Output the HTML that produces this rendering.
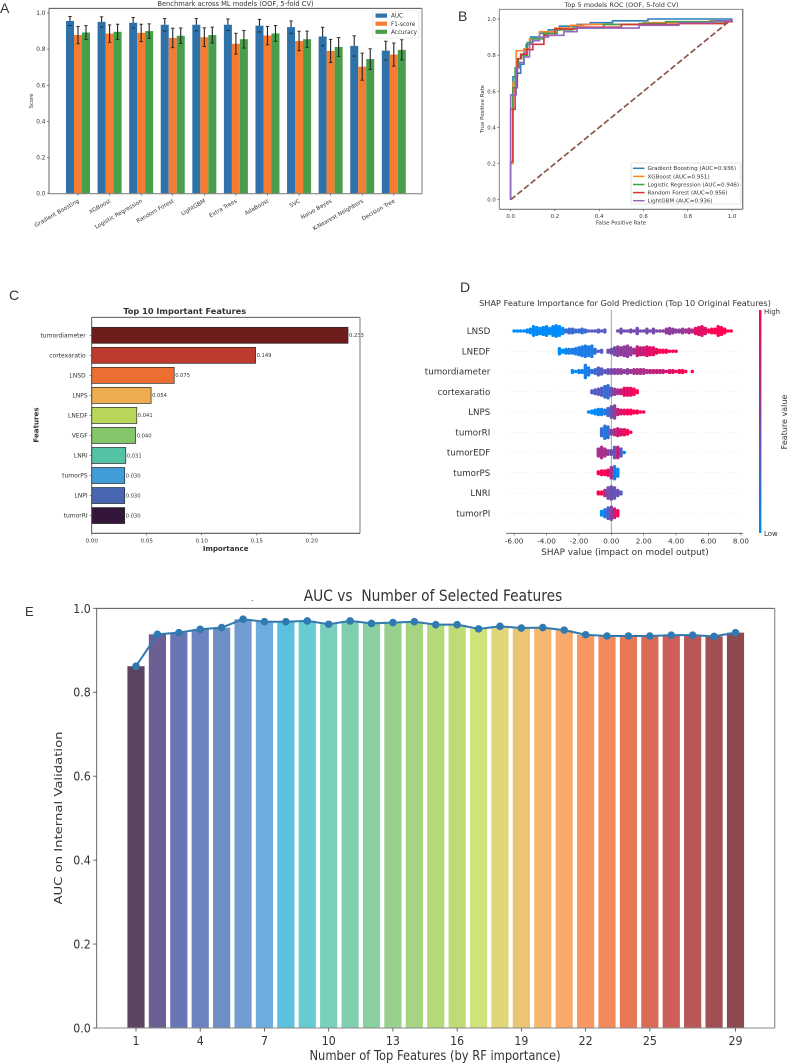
<!DOCTYPE html>
<html lang="en">
<head>
<meta charset="utf-8">
<title>ML model benchmark figure</title>
<style>
html,body{margin:0;padding:0;background:#fff;}
svg{display:block;}
text{font-family:"DejaVu Sans","Liberation Sans",sans-serif;fill:#333;}
.panel{font-family:"Liberation Sans",sans-serif;font-size:14px;fill:#333;}
</style>
</head>
<body>
<svg id="fig" xmlns="http://www.w3.org/2000/svg" width="794" height="1063" viewBox="0 0 794 1063">
  <defs>
    <filter id="soft" x="-5%" y="-5%" width="110%" height="110%"><feGaussianBlur stdDeviation="0.35"/></filter>
  </defs>
  <rect x="0" y="0" width="794" height="1063" fill="#fff"/>
  <text class="panel" x="0" y="13">A</text>
  <text class="panel" x="458" y="21">B</text>
  <text class="panel" x="9" y="300">C</text>
  <text class="panel" x="460" y="292">D</text>
  <text class="panel" x="25" y="616" style="font-size:13px">E</text>

  <g id="a" filter="url(#soft)">
    <text x="235.5" y="6" text-anchor="middle" font-size="6.7">Benchmark across ML models (OOF, 5-fold CV)</text>
    <text transform="translate(33,101) rotate(-90)" text-anchor="middle" font-size="5.4">Score</text>
  </g>
  <g id="b" filter="url(#soft)">
    <text x="621.5" y="7" text-anchor="middle" font-size="6.5">Top 5 models ROC (OOF, 5-fold CV)</text>
    <text x="621" y="224.5" text-anchor="middle" font-size="5.4">False Positive Rate</text>
    <text transform="translate(484,109) rotate(-90)" text-anchor="middle" font-size="5.4">True Positive Rate</text>
  </g>
  <g id="c" filter="url(#soft)">
    <text x="184.7" y="314" text-anchor="middle" font-size="8.2" font-weight="bold">Top 10 Important Features</text>
    <text x="225.7" y="551" text-anchor="middle" font-size="7.1" font-weight="bold">Importance</text>
    <text transform="translate(38.5,425) rotate(-90)" text-anchor="middle" font-size="7.1" font-weight="bold">Features</text>
  </g>
  <g id="d" filter="url(#soft)">
    <text x="625" y="306" text-anchor="middle" font-size="8.2">SHAP Feature Importance for Gold Prediction (Top 10 Original Features)</text>
    <text x="625" y="555" text-anchor="middle" font-size="8.9">SHAP value (impact on model output)</text>
    <text x="764" y="314" font-size="7">High</text>
    <text x="764" y="536" font-size="7">Low</text>
    <text transform="translate(787,422) rotate(-90)" text-anchor="middle" font-size="8">Feature value</text>
  </g>
  <g id="e">
    <text transform="translate(433,601) scale(1,1.15)" text-anchor="middle" font-size="13.8" xml:space="preserve">AUC vs  Number of Selected Features</text>
    <text x="251" y="601" font-size="8">.</text>
    <text transform="translate(435,1060) scale(1,1.15)" text-anchor="middle" font-size="11.5">Number of Top Features (by RF importance)</text>
    <text transform="translate(62,818) rotate(-90) scale(1.15,0.95)" text-anchor="middle" font-size="11.5">AUC on Internal Validation</text>
  </g>
</svg>

<script>
/* ---------- Panel A data ---------- */
const modelNames = ["Gradient Boosting","XGBoost","Logistic Regression","Random Forest","LightGBM","Extra Trees","AdaBoost","SVC","Naive Bayes","K-Nearest Neighbors","Decision Tree"];
const aucValues = [0.956,0.951,0.946,0.935,0.935,0.935,0.930,0.922,0.870,0.818,0.792];
const aucErrors = [0.025,0.028,0.029,0.034,0.034,0.032,0.035,0.034,0.051,0.056,0.052];
const f1Values = [0.878,0.886,0.890,0.862,0.866,0.830,0.875,0.845,0.790,0.703,0.770];
const f1Errors = [0.048,0.048,0.048,0.054,0.052,0.058,0.051,0.054,0.064,0.075,0.064];
const accValues = [0.892,0.896,0.900,0.874,0.878,0.855,0.887,0.855,0.812,0.745,0.796];
const accErrors = [0.038,0.042,0.040,0.043,0.044,0.049,0.044,0.045,0.052,0.057,0.056];
const scoreTicks = [0,0.2,0.4,0.6,0.8,1.0];

/* ---------- Panel B data ---------- */
const gbFpr = [0,0.01,0.03,0.045,0.06,0.07,0.09,0.13,0.17,0.22,0.30,0.36,0.46,0.62,1];
const gbTpr = [0.50,0.68,0.70,0.75,0.83,0.86,0.90,0.92,0.94,0.96,0.97,0.98,0.99,1,1];
const xgbFpr = [0,0.01,0.025,0.06,0.085,0.13,0.20,0.27,0.33,0.60,0.90,1];
const xgbTpr = [0.20,0.65,0.825,0.835,0.89,0.93,0.95,0.965,0.97,0.98,0.99,1];
const lrFpr = [0,0.01,0.02,0.035,0.05,0.075,0.10,0.15,0.21,0.28,0.42,0.58,0.70,1];
const lrTpr = [0.50,0.62,0.73,0.78,0.80,0.87,0.89,0.92,0.94,0.95,0.97,0.975,0.985,0.99];
const rfFpr = [0,0.01,0.02,0.03,0.045,0.07,0.10,0.15,0.20,0.30,0.50,0.76,0.97,1];
const rfTpr = [0.21,0.50,0.62,0.78,0.805,0.83,0.86,0.91,0.945,0.955,0.97,0.975,0.985,0.99];
const lgbFpr = [0,0.025,0.04,0.06,0.085,0.10,0.13,0.17,0.24,0.30,0.58,0.76,0.92,1];
const lgbTpr = [0.58,0.73,0.76,0.79,0.86,0.88,0.90,0.91,0.93,0.95,0.965,0.98,0.99,1];
const rocNames = ["Gradient Boosting (AUC=0.936)","XGBoost (AUC=0.951)","Logistic Regression (AUC=0.946)","Random Forest (AUC=0.956)","LightGBM (AUC=0.936)"];
const rocTicks = [0,0.2,0.4,0.6,0.8,1.0];

/* ---------- Panel C data ---------- */
const importanceFeatures = ["tumordiameter","cortexaratio","LNSD","LNPS","LNEDF","VEGF","LNRI","tumorPS","LNPI","tumorRI"];
const importanceValues = [0.233,0.149,0.075,0.054,0.041,0.040,0.031,0.030,0.030,0.030];
const importanceTicks = [0,0.05,0.10,0.15,0.20];

/* ---------- Panel D data: beeswarm columns (0.2-wide bins) ---------- */
const shapFeatures = ["LNSD","LNEDF","tumordiameter","cortexaratio","LNPS","tumorRI","tumorEDF","tumorPS","LNRI","tumorPI"];
const shapStarts = [-6.0,-3.2,-2.4,-1.2,-1.4,-0.6,-0.8,-0.8,-0.8,-0.6];
const shapCounts = [
 [1,1,1,1,2,3,6,5,4,5,6,4,6,7,6,4,2,3,3,2,2,3,2,1,1,1,2,1,2,0,0,0,1,3,1,1,2,1,4,1,1,3,1,3,1,1,1,3,4,3,2,2,3,2,3,2,4,5,6,4,2,3,3,6,5,3,1,1,0],
 [4,2,3,3,3,4,5,6,7,6,7,3,1,2,0,2,3,5,6,5,6,7,5,3,6,5,5,6,5,5,3,2,2,2,1,1,1],
 [2,1,2,2,8,5,2,3,5,4,2,3,3,3,3,3,2,3,2,3,3,3,3,2,2,2,2,2,2,1,2,2,1,2,2,1,0,1],
 [2,3,4,5,7,8,5,4,3,3,5,5,5,4,2],
 [1,2,3,4,4,3,5,7,8,4,3,3,3,3,2,2,1,1],
 [5,8,7,3,4,5,4,4,3,1],
 [5,7,5,3,3,7,7,5,1],
 [2,3,3,4,7,8,5],
 [2,2,4,7,8,7,4,2],
 [3,5,7,8,6,4]
];
const shapFeatureLevels = [
 [0,0,0,0,0,0,0,0,0,0,0,0,0,0,0,0,2,2,2,2,2,2,2,3,3,3,3,3,3,3,3,3,4,4,4,4,4,4,4,4,4,4,4,4,4,5,5,5,5,5,5,5,5,6,6,6,8,8,8,8,9,9,9,9,9,9,9,9,9],
 [0,0,0,1,1,1,1,1,1,1,1,2,3,3,3,4,4,4,5,5,5,5,5,6,7,7,7,8,8,8,8,9,9,9,9,9,9],
 [0,0,0,1,1,1,2,2,3,3,3,4,4,5,5,5,5,5,5,6,6,6,6,6,7,7,7,7,7,8,8,8,8,9,9,9,9,9],
 [3,3,3,3,2,2,4,5,6,7,8,8,8,9,9],
 [0,0,0,0,1,1,2,4,5,7,8,8,9,9,9,9,9,9],
 [2,1,2,5,6,7,8,8,9,9],
 [6,6,6,5,4,3,7,3,0],
 [9,9,9,8,6,1,0],
 [9,9,6,4,4,3,4,3],
 [0,1,3,5,7,9]
];
const shapTicks = [-6,-4,-2,0,2,4,6,8];

/* ---------- Panel E data ---------- */
const featureCounts = [1,2,3,4,5,6,7,8,9,10,11,12,13,14,15,16,17,18,19,20,21,22,23,24,25,26,27,28,29];
const aucByCount = [0.862,0.938,0.942,0.950,0.954,0.974,0.968,0.968,0.970,0.962,0.970,0.964,0.966,0.968,0.961,0.961,0.951,0.957,0.953,0.954,0.948,0.937,0.934,0.934,0.934,0.936,0.936,0.933,0.942];
const featureTickLabels = [1,4,7,10,13,16,19,22,25,29];
const aucTicks = [0,0.2,0.4,0.6,0.8,1.0];

/* ---------- Colours ---------- */
const modelBarColors = ["#2f72a9","#f57d31","#4a9e4b"];
const rocColors = ["#2f7fb8","#f7872a","#3f9f45","#d9333a","#9467bd"];
const importanceColors = ["#6e1c1f","#bd3b2e","#ee6e33","#eeac50","#b8d659","#84c76b","#53c2a5","#419dd8","#4a66b0","#34183a"];
const aucColors = ["#5c4562","#6b5f94","#6a75b4","#6d82c0","#6f8fc4","#729bcf","#6cacdf","#5bc1e1","#65cdd1","#78cfbb","#7fcfae","#8ad0a0","#97d18d","#a6d480","#b5d878","#bfdb76","#d0e27a","#e0d679","#ebc672","#f4b86e","#f9a96a","#f89860","#f08a5c","#e87855","#da6a56","#cd5e58","#b85658","#a35055","#8c4a4e"];

/* ---------- Helpers ---------- */
const NS = "http://www.w3.org/2000/svg";
function el(parent, tag, attrs) {
  const n = document.createElementNS(NS, tag);
  for (const k in attrs) n.setAttribute(k, attrs[k]);
  parent.appendChild(n);
  return n;
}
function label(parent, str, x, y, size, anchor, name) {
  const t = el(parent, "text", {x: x, y: y, "font-size": size, "text-anchor": anchor});
  t.textContent = str;
  
  
  return t;
}
function tallLabel(parent, str, x, y, size, anchor, name) {
  const t = label(parent, str, 0, 0, size, anchor, name);
  t.setAttribute("transform", "translate(" + x + "," + y + ") scale(1,1.15)");
  return t;
}
function seg(parent, x1, y1, x2, y2, color, width, name) {
  const l = el(parent, "line", {x1: x1, y1: y1, x2: x2, y2: y2, stroke: color, "stroke-width": width});
  
  
  return l;
}
function frame(parent, l, t, r, b, prefix, colors) {
  seg(parent, l, t, r, t, colors[0], 0.9, prefix + "-top-spine");
  seg(parent, l, t, l, b, colors[1], 0.9, prefix + "-left-spine");
  seg(parent, r, t, r, b, colors[2], 1.3, prefix + "-right-spine");
  seg(parent, l, b, r, b, colors[3], 1.1, prefix + "-bottom-spine");
}

/* ---------- Panel A ---------- */
(function () {
  const g = document.getElementById("a");
  const L = 49, R = 422, T = 8.3, B = 193.7;
  const y = v => B - 180.7 * v;
  const groupX = i => 78 + 31.58 * i;
  const series = [[aucValues, aucErrors], [f1Values, f1Errors], [accValues, accErrors]];
  const seriesNames = ["auc", "f1", "accuracy"];
  const bw = 8;
  series.forEach((s, si) => {
    s[0].forEach((v, i) => {
      const x = groupX(i) + (si - 1.5) * bw;
      const r = el(g, "rect", {x: x, y: y(v), width: bw, height: B - y(v), fill: modelBarColors[si]});
      
      
    });
  });
  series.forEach((s, si) => {
    s[0].forEach((v, i) => {
      const cx = groupX(i) + (si - 1) * bw;
      const top = y(v + s[1][i]), bot = y(v - s[1][i]);
      const lower = si === 0 ? y(v) : bot;
      seg(g, cx, top, cx, lower, "#222", 1.1, "error-bar");
      seg(g, cx - 1.7, top, cx + 1.7, top, "#222", 0.9, "error-cap-top");
      seg(g, cx - 1.7, bot, cx + 1.7, bot, "#222", 0.9, "error-cap-bottom");
    });
  });
  frame(g, L, T, R, B, "benchmark", ["#3a3a3a", "#555", "#999", "#888"]);
  scoreTicks.forEach(v => {
    seg(g, L - 2, y(v), L, y(v), "#444", 0.6, "y-tick");
    label(g, v.toFixed(1), L - 3.5, y(v) + 2, 5.8, "end", "y-tick-label");
  });
  modelNames.forEach((n, i) => {
    const x = groupX(i);
    seg(g, x, B, x, B + 2, "#444", 0.6, "x-tick");
    const t = label(g, n, 0, 0, 5.6, "end", "model-label");
    t.setAttribute("transform", "translate(" + (x + 1.5) + ",202) rotate(-30)");
  });
  const box = el(g, "rect", {x: 373, y: 11, width: 46, height: 27, fill: "#fff", "fill-opacity": 0.85, stroke: "#ddd", "stroke-width": 0.6, rx: 1});
  
  
  ["AUC", "F1-score", "Accuracy"].forEach((n, i) => {
    const yy = 13.5 + i * 8.1;
    const sw = el(g, "rect", {x: 375.5, y: yy, width: 11.5, height: 4.2, fill: modelBarColors[i]});
    
    
    label(g, n, 391, yy + 4.2, 5.7, "start", "legend-entry");
  });
})();

/* ---------- Panel B ---------- */
(function () {
  const g = document.getElementById("b");
  const L = 499.3, R = 742.7, T = 9.3, B = 209.3;
  const x = v => 510.7 + 221.3 * v;
  const y = v => 199.7 - 180.7 * v;
  const curves = [[gbFpr, gbTpr], [xgbFpr, xgbTpr], [lrFpr, lrTpr], [rfFpr, rfTpr], [lgbFpr, lgbTpr]];
  const diag = seg(g, x(0), y(0), x(1), y(1), "#8c564b", 1.7, "chance-diagonal");
  diag.setAttribute("stroke-dasharray", "6 2.6");
  curves.forEach((c, k) => {
    let d = "M" + x(0) + " " + y(0);
    c[0].forEach((f, i) => {
      d += "H" + x(f) + "V" + y(c[1][i]);
    });
    const p = el(g, "path", {d: d, fill: "none", stroke: rocColors[k], "stroke-width": 1.6, "stroke-linejoin": "miter"});
    
    
  });
  frame(g, L, T, R, B, "roc", ["#777", "#777", "#777", "#777"]);
  rocTicks.forEach(v => {
    seg(g, x(v), B, x(v), B + 2, "#444", 0.6, "x-tick");
    label(g, v.toFixed(1), x(v), B + 8.5, 5.4, "middle", "x-tick-label");
    seg(g, L - 2, y(v), L, y(v), "#444", 0.6, "y-tick");
    label(g, v.toFixed(1), L - 3.5, y(v) + 2, 5.4, "end", "y-tick-label");
  });
  const box = el(g, "rect", {x: 631, y: 163, width: 110, height: 41, fill: "#fff", stroke: "#ccc", "stroke-width": 0.6, rx: 1});
  
  
  rocNames.forEach((n, i) => {
    const yy = 168.3 + i * 8.1;
    seg(g, 633, yy, 644.5, yy, rocColors[i], 1.5, "roc-legend-line");
    label(g, n, 647.5, yy + 1.9, 5.55, "start", "roc-legend-entry");
  });
})();

/* ---------- Panel C ---------- */
(function () {
  const g = document.getElementById("c");
  const L = 91.7, R = 360, T = 317.3, B = 533.3;
  const x = v => L + 1100 * v;
  const rowY = i => 335.3 + 20.03 * i;
  importanceValues.forEach((v, i) => {
    const r = el(g, "rect", {x: L, y: rowY(i) - 8, width: x(v) - L, height: 16, fill: importanceColors[i], stroke: "#2a2a2a", "stroke-width": 0.7});
    
    
    label(g, v.toFixed(3), x(v) + 1, rowY(i) + 1.8, 5.2, "start", "importance-value");
    seg(g, L - 2, rowY(i), L, rowY(i), "#444", 0.6, "y-tick");
    label(g, importanceFeatures[i], L - (i < 3 ? 6 : 4), rowY(i) + 2, 6, "end", "feature-label");
  });
  frame(g, L, T, R, B, "importance", ["#444", "#444", "#999", "#555"]);
  importanceTicks.forEach(v => {
    seg(g, x(v), B, x(v), B + 2, "#444", 0.6, "x-tick");
    label(g, v.toFixed(2), x(v), 542.5, 5.6, "middle", "x-tick-label");
  });
})();

/* ---------- Panel D ---------- */
(function () {
  const g = document.getElementById("d");
  const x = v => 611.3 + 16.2 * v;
  const rowY = i => 331 + 20.25 * i;
  const lowC = [0, 139, 251], highC = [255, 0, 82];
  const shade = t => "rgb(" + lowC.map((c, k) => Math.round(c + (highC[k] - c) * t)).join(",") + ")";
  shapFeatures.forEach((n, i) => {
    const rowLine = seg(g, 506, rowY(i), 743, rowY(i), "#ddd", 0.5, "shap-row-guide");
    rowLine.setAttribute("stroke-dasharray", "1 2");
    label(g, n, 490.3, rowY(i) + 3, 8.7, "end", "shap-feature-label");
  });
  seg(g, x(0), 310, x(0), 533.3, "#999", 0.9, "shap-zero-line");
  shapCounts.forEach((row, i) => {
    row.forEach((count, b) => {
      const v = shapStarts[i] + b * 0.2;
      const level = shapFeatureLevels[i][b] / 9;
      for (let c = 0; c < count; c++) {
        const off = (c - (count - 1) / 2) * 1.7;
        const dot = el(g, "circle", {cx: x(v), cy: rowY(i) + off, r: 1.75, fill: shade(level)});
        
        
      }
    });
  });
  seg(g, 506, 533.3, 743, 533.3, "#555", 0.8, "shap-x-axis");
  shapTicks.forEach(v => {
    seg(g, x(v), 533.3, x(v), 535.5, "#444", 0.6, "x-tick");
    label(g, v.toFixed(2), x(v), 543.5, 7.2, "middle", "x-tick-label");
  });
  const defs = el(g, "defs", {});
  const grad = el(defs, "linearGradient", {id: "cb", x1: 0, y1: 0, x2: 0, y2: 1});
  el(grad, "stop", {offset: "0", "stop-color": shade(1)});
  el(grad, "stop", {offset: "1", "stop-color": shade(0)});
  const bar = el(g, "rect", {x: 759, y: 310, width: 2.4, height: 223, fill: "url(#cb)"});
  
  
})();

/* ---------- Panel E ---------- */
(function () {
  const g = document.getElementById("e");
  const L = 96.7, R = 774.7, T = 608.3, B = 1028;
  const x = n => 136 + 21.41 * (n - 1);
  const y = v => B - 419.7 * v;
  aucByCount.forEach((v, i) => {
    const n = featureCounts[i];
    const r = el(g, "rect", {x: x(n) - 8.6, y: y(v), width: 17.2, height: B - y(v), fill: aucColors[i]});
    
    
  });
  frame(g, L, T, R, B, "auc", ["#3a3a3a", "#555", "#999", "#888"]);
  const line = el(g, "polyline", {points: aucByCount.map((v, i) => x(featureCounts[i]) + "," + y(v)).join(" "), fill: "none", stroke: "#317ab1", "stroke-width": 2});
  
  
  aucByCount.forEach((v, i) => {
    const c = el(g, "circle", {cx: x(featureCounts[i]), cy: y(v), r: 3.8, fill: "#317ab1"});
    
    
  });
  aucTicks.forEach(v => {
    seg(g, L - 3.5, y(v), L, y(v), "#444", 0.8, "y-tick");
    tallLabel(g, v.toFixed(1), L - 6, y(v) + 4.5, 11, "end", "y-tick-label");
  });
  featureTickLabels.forEach(n => {
    seg(g, x(n), B, x(n), B + 3.5, "#444", 0.8, "x-tick");
    tallLabel(g, String(n), x(n), 1045, 11, "middle", "x-tick-label");
  });
})();
</script>
</body>
</html>
